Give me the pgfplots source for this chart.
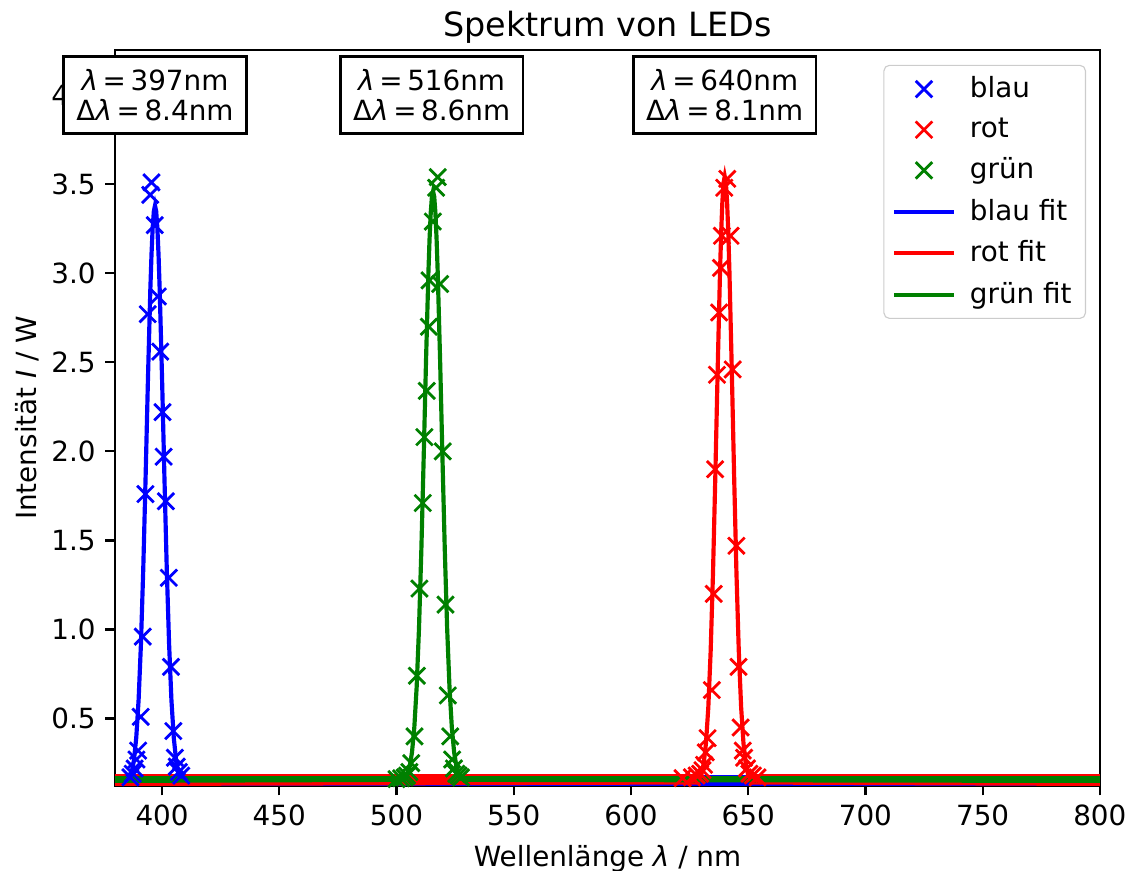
\documentclass[border=0pt]{standalone}
\usepackage{fontspec}
\setmainfont{DejaVu Sans}
\usepackage{pgfplots}
\pgfplotsset{compat=1.18}
\definecolor{mblue}{rgb}{0,0,1}
\definecolor{mred}{rgb}{1,0,0}
\definecolor{mgreen}{rgb}{0,0.5,0}

\begin{document}
\begin{tikzpicture}
\begin{axis}[
    scale only axis,
    width=354pt, height=264.4pt,
    xmin=380, xmax=800, ymin=0.124, ymax=4.253,
    xtick={400,450,500,550,600,650,700,750,800},
    ytick={0.5,1,1.5,2,2.5,3,3.5,4},
    yticklabel style={/pgf/number format/.cd, fixed, fixed zerofill, precision=1},
    /pgf/number format/assume math mode=true,
    tick align=outside, tick pos=left,
    major tick length=3.5pt,
    every tick/.style={black, line width=0.8pt},
    axis line style={line width=0.8pt},
    tick label style={font=\fontsize{10}{12}\selectfont},
    label style={font=\fontsize{10}{12}\selectfont},
    title style={font=\fontsize{12}{14}\selectfont, yshift=-7pt},
    title={Spektrum von LEDs},
    xlabel={Wellenlänge \textit{λ} / nm},
    ylabel={Intensität \textit{I} / W},
    ylabel shift=-2.5pt,
    legend image code/.code={\draw[mark repeat=2,mark phase=2]
        plot coordinates {(0cm,0cm)(0.375cm,0cm)(0.75cm,0cm)};},
    legend style={at={(0.986,0.98)}, anchor=north east, draw=black!20,
        rounded corners=2pt, fill=white, font=\fontsize{10}{12}\selectfont,
        cells={anchor=west}, row sep=1.8pt, column sep=3.1pt, inner xsep=3pt,
        inner ysep=2pt},
    marks/.style={only marks, mark=x, mark size=4.2pt, line width=1pt},
  ]
% baseline of the measured spectra (dense points along the floor)
\addplot[mblue, line width=4.5pt, forget plot] coordinates {(380,0.15)(386,0.15)};
\addplot[mblue, line width=4.5pt, forget plot] coordinates {(409,0.15)(800,0.15)};
\addplot[mblue, marks] coordinates {
  (386.5,0.17)(387.5,0.19)(388.3,0.22)(389.1,0.27)(389.8,0.32)(390.9,0.51)
  (391.8,0.96)(392.9,1.76)(393.9,2.77)(395.0,3.44)(395.5,3.51)(396.9,3.27)
  (398.2,2.87)(399.2,2.56)(400.2,2.22)(400.7,1.97)(401.6,1.72)(402.9,1.29)
  (403.8,0.79)(404.8,0.43)(405.5,0.28)(406.3,0.23)(407.2,0.20)(408.2,0.18)};
\addlegendentry{blau}
\addplot[mred, line width=5.25pt, forget plot] coordinates {(380,0.15)(629.5,0.15)};
\addplot[mred, line width=5.25pt, forget plot] coordinates {(650.5,0.15)(800,0.15)};
\addplot[mred, marks] coordinates {
  (622,0.165)(626,0.17)(628,0.18)(629.5,0.19)(630.5,0.21)(631.2,0.24)
  (631.9,0.31)(632.7,0.39)(634.5,0.66)(635.3,1.20)(635.9,1.90)(636.7,2.43)
  (637.6,2.78)(638.4,3.03)(638.8,3.21)(639.8,3.48)(641.1,3.53)(642.5,3.21)
  (643.4,2.46)(645.0,1.47)(645.9,0.79)(646.8,0.45)(647.7,0.32)(648.3,0.28)
  (649.5,0.22)(650.5,0.19)(652,0.18)(654,0.17)};
\addlegendentry{rot}
\addplot[mgreen, line width=3.85pt, forget plot] coordinates {(380,0.15)(505,0.15)};
\addplot[mgreen, line width=3.85pt, forget plot] coordinates {(527,0.15)(800,0.15)};
\addplot[mgreen, marks] coordinates {
  (500,0.16)(502,0.165)(503.5,0.17)(504.5,0.18)(505.5,0.20)(506.3,0.25)
  (507.7,0.40)(508.7,0.74)(509.8,1.23)(511.2,1.71)(511.9,2.08)(512.9,2.34)
  (513.8,2.70)(514.1,2.96)(515.5,3.29)(516.9,3.48)(517.6,3.54)(518.6,2.94)
  (519.7,2.00)(520.9,1.14)(521.9,0.63)(522.9,0.40)(523.7,0.27)(524.5,0.22)
  (525.5,0.19)(526.5,0.18)(527.5,0.17)};
\addlegendentry{grün}
% Gaussian fits
\addplot[mblue, line width=1.5pt, mark=none] coordinates {
  (380,0.13)(384,0.134)(385,0.141)(386,0.158)(387,0.194)(388,0.265)(389,0.393)
  (390,0.604)(391,0.920)(392,1.347)(393,1.863)(394,2.412)(395,2.907)(395.5,3.105)
  (396,3.255)(396.5,3.348)(397,3.380)(397.5,3.348)(398,3.255)(398.5,3.105)
  (399,2.907)(400,2.412)(401,1.863)(402,1.347)(403,0.920)(404,0.604)(405,0.393)
  (406,0.265)(407,0.194)(408,0.158)(409,0.141)(410,0.134)(800,0.13)};
\addlegendentry{blau fit}
\addplot[mred, line width=1.5pt, mark=none] coordinates {
  (380,0.133)(628,0.141)(629,0.153)(630,0.183)(631,0.244)(632,0.361)(633,0.563)
  (634,0.878)(635,1.318)(636,1.867)(637,2.464)(638,3.012)(638.5,3.234)(639,3.402)
  (639.5,3.507)(640,3.543)(640.5,3.507)(641,3.402)(641.5,3.234)(642,3.012)
  (643,2.464)(644,1.867)(645,1.318)(646,0.878)(647,0.563)(648,0.361)(649,0.244)
  (650,0.183)(651,0.153)(652,0.141)(800,0.133)};
\addlegendentry{rot fit}
\addplot[mgreen, line width=1.5pt, mark=none] coordinates {
  (380,0.15)(502.6,0.156)(503.6,0.165)(504.6,0.185)(505.6,0.228)(506.6,0.309)
  (507.6,0.450)(508.6,0.677)(509.6,1.008)(510.6,1.446)(511.6,1.967)(512.6,2.512)
  (513.6,2.999)(514.1,3.192)(514.6,3.338)(515.1,3.429)(515.6,3.460)(516.1,3.429)
  (516.6,3.338)(517.1,3.192)(517.6,2.999)(518.6,2.512)(519.6,1.967)(520.6,1.446)
  (521.6,1.008)(522.6,0.677)(523.6,0.450)(524.6,0.309)(525.6,0.228)(526.6,0.185)
  (527.6,0.165)(528.6,0.156)(800,0.15)};
\addlegendentry{grün fit}
\coordinate (b1) at (axis cs:397,4.0);
\coordinate (b2) at (axis cs:515,4.0);
\coordinate (b3) at (axis cs:640,4.0);
\coordinate (sw) at (rel axis cs:0,0);
\coordinate (ne) at (rel axis cs:1,1);
\end{axis}
\tikzset{ann/.style={draw=black, line width=1pt, fill=white, align=center,
    inner xsep=4.6pt, inner ysep=4.6pt, font=\fontsize{10}{10.8}\selectfont}}
\node[ann] at (b1) {\textit{λ}\,=\,397nm\\Δ\textit{λ}\,=\,8.4nm};
\node[ann] at (b2) {\textit{λ}\,=\,516nm\\Δ\textit{λ}\,=\,8.6nm};
\node[ann] at (b3) {\textit{λ}\,=\,640nm\\Δ\textit{λ}\,=\,8.1nm};
\pgfresetboundingbox
\path ([shift={(-41.4pt,-30.6pt)}]sw) rectangle ([shift={(11.2pt,18pt)}]ne);
\end{tikzpicture}
\end{document}
